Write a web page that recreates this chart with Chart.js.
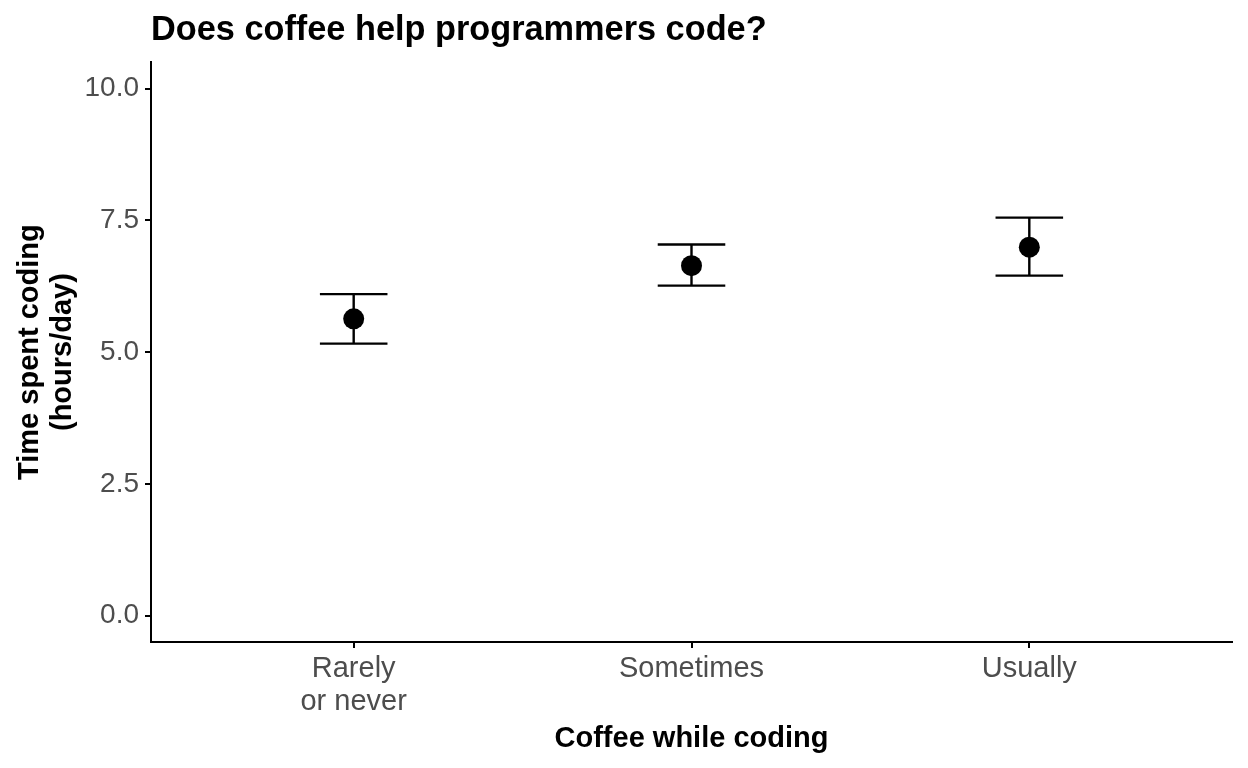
<!DOCTYPE html>
<html>
<head>
<meta charset="utf-8">
<script src="https://cdn.jsdelivr.net/npm/chart.js@4.4.1/dist/chart.umd.min.js"></script>
<style>
html,body{margin:0;padding:0;background:#fff;}
#wrap{width:1248px;height:768px;}
</style>
</head>
<body>
<div id="wrap"><canvas id="c" width="1248" height="768"></canvas></div>
<script>
// ---- data ----
const categories = [["Rarely", "or never"], "Sometimes", "Usually"];
const meanHours = [5.63, 6.64, 6.99];
const lowerHours = [5.16, 6.26, 6.45];
const upperHours = [6.10, 7.04, 7.55];
const yTickValues = [0, 2.5, 5, 7.5, 10];
const chartTitle = "Does coffee help programmers code?";
const xTitle = "Coffee while coding";
const yTitle = ["Time spent coding", "(hours/day)"];

const FONT = "'Liberation Sans', Arial, Helvetica, sans-serif";
const CAP_HALF = 0.1; // half width of error bar caps in category units

const errorBarPlugin = {
  id: 'errorBars',
  beforeDatasetsDraw(chart) {
    const ctx = chart.ctx;
    const xs = chart.scales.x, ys = chart.scales.y;
    ctx.save();
    ctx.strokeStyle = '#000';
    ctx.lineWidth = 2.4;
    ctx.lineCap = 'butt';
    for (let i = 0; i < meanHours.length; i++) {
      const xc = xs.getPixelForValue(i);
      const xl = xs.getPixelForValue(i - CAP_HALF);
      const xr = xs.getPixelForValue(i + CAP_HALF);
      const yl = ys.getPixelForValue(lowerHours[i]);
      const yu = ys.getPixelForValue(upperHours[i]);
      ctx.beginPath();
      ctx.moveTo(xc, yl); ctx.lineTo(xc, yu);
      ctx.moveTo(xl, yl); ctx.lineTo(xr, yl);
      ctx.moveTo(xl, yu); ctx.lineTo(xr, yu);
      ctx.stroke();
    }
    ctx.restore();
  }
};

const pts = meanHours.map((v, i) => ({x: i, y: v}));

new Chart(document.getElementById('c'), {
  type: 'scatter',
  data: {
    datasets: [{
      data: pts,
      backgroundColor: '#000',
      borderColor: '#000',
      pointRadius: 10.5,
      pointHoverRadius: 10.5,
      borderWidth: 0
    }]
  },
  options: {
    responsive: false,
    animation: false,
    events: [],
    layout: { padding: { top: 2, left: 12, right: 16, bottom: 12 } },
    plugins: {
      legend: { display: false },
      tooltip: { enabled: false },
      title: {
        display: true,
        text: chartTitle,
        align: 'start',
        fullSize: false,
        color: '#000',
        font: { family: FONT, size: 34.3, weight: 'bold', lineHeight: 1.2 },
        padding: { top: 8, bottom: 11 }
      }
    },
    scales: {
      x: {
        type: 'linear',
        min: -0.6,
        max: 2.6,
        afterBuildTicks: (s) => { s.ticks = categories.map((c, i) => ({ value: i })); },
        afterFit: (s) => { s.height = 114; },
        ticks: {
          color: '#4D4D4D',
          font: { family: FONT, size: 29, lineHeight: 1.15 },
          padding: 4,
          maxRotation: 0,
          autoSkip: false,
          callback: (v) => categories[Math.round(v)]
        },
        grid: { display: true, drawOnChartArea: false, drawTicks: true, tickLength: 6, color: '#000', lineWidth: 2 },
        border: { display: true, color: '#000', width: 2 },
        title: {
          display: true,
          text: xTitle,
          color: '#000',
          font: { family: FONT, size: 29, weight: 'bold' },
          padding: { top: 2, bottom: 0 }
        }
      },
      y: {
        min: -0.5,
        max: 10.5,
        afterBuildTicks: (s) => { s.ticks = yTickValues.map(v => ({ value: v })); },
        afterFit: (s) => { s.width = 139; },
        ticks: {
          color: '#4D4D4D',
          font: { family: FONT, size: 28 },
          padding: 6,
          callback: (v) => Number(v).toFixed(1)
        },
        grid: { display: true, drawOnChartArea: false, drawTicks: true, tickLength: 6, color: '#000', lineWidth: 2 },
        border: { display: true, color: '#000', width: 2 },
        title: {
          display: true,
          text: yTitle,
          color: '#000',
          font: { family: FONT, size: 29, weight: 'bold', lineHeight: 1.15 },
          padding: { top: 1, bottom: 0 }
        }
      }
    }
  },
  plugins: [errorBarPlugin]
});
</script>
</body>
</html>
